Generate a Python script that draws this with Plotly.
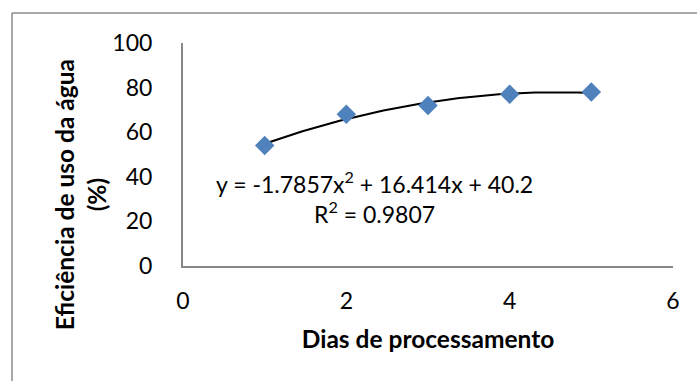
import numpy as np
import plotly.graph_objects as go

# Data
dias = [1, 2, 3, 4, 5]
eficiencia = [54, 68, 72, 77, 78]
x_ticks = [0, 2, 4, 6]
y_ticks = [0, 20, 40, 60, 80, 100]
x_title = "Dias de processamento"
y_title = "Eficiência de uso da água<br>(%)"
equation = "y = -1.7857x<sup>2</sup> + 16.414x + 40.2"
r2_text = "R<sup>2</sup> = 0.9807"

# Polynomial trendline (order 2) fitted to the data
coef = np.polyfit(dias, eficiencia, 2)
xs = np.linspace(min(dias), max(dias), 100)
ys = np.polyval(coef, xs)

FONT = "Lato"

fig = go.Figure()
fig.add_trace(go.Scatter(x=xs, y=ys, mode="lines",
                         line=dict(color="black", width=2), hoverinfo="skip",
                         showlegend=False))
fig.add_trace(go.Scatter(x=dias, y=eficiencia, mode="markers",
                         marker=dict(symbol="diamond", size=15, color="#4F81BD"),
                         showlegend=False))

fig.update_layout(
    width=697, height=381,
    margin=dict(l=183, r=24, t=43, b=115),
    paper_bgcolor="white", plot_bgcolor="white",
    font=dict(family=FONT, size=23, color="black"),
    xaxis=dict(range=[0, 6], tickvals=x_ticks, showgrid=False, zeroline=False,
               showline=True, linecolor="#868686", linewidth=2,
               ticks="", ticklabelstandoff=13,
               tickfont=dict(family=FONT, size=23),
               title=dict(text=x_title, font=dict(family=FONT, size=24.5, weight="bold"),
                          standoff=18)),
    yaxis=dict(range=[0, 100], tickvals=y_ticks, showgrid=False, zeroline=False,
               showline=True, linecolor="#868686", linewidth=2,
               ticks="", ticklabelstandoff=24,
               tickfont=dict(family=FONT, size=23)),
    shapes=[
        dict(type="line", xref="paper", yref="paper", x0=-0.349, x1=1.2,
             y0=(266 - 13) / 223, y1=(266 - 13) / 223,
             line=dict(color="#8C8C8C", width=1.5)),
        dict(type="line", xref="paper", yref="paper", x0=-0.349, x1=-0.349,
             y0=(266 - 13) / 223, y1=-0.7,
             line=dict(color="#8C8C8C", width=1.5)),
    ],
    annotations=[
        dict(x=2.34, y=30.5, xref="x", yref="y", showarrow=False,
             text=equation + "<br>" + r2_text, align="center",
             font=dict(family=FONT, size=23, color="black")),
        dict(x=-0.21, y=0.318, xref="paper", yref="paper", showarrow=False,
             text=y_title, textangle=-90, align="center",
             xanchor="center", yanchor="middle",
             font=dict(family=FONT, size=24.5, weight="bold", color="black")),
    ],
)

fig.write_html("out.html", config={"displayModeBar": False},
               post_script="document.body.style.margin='0';")
